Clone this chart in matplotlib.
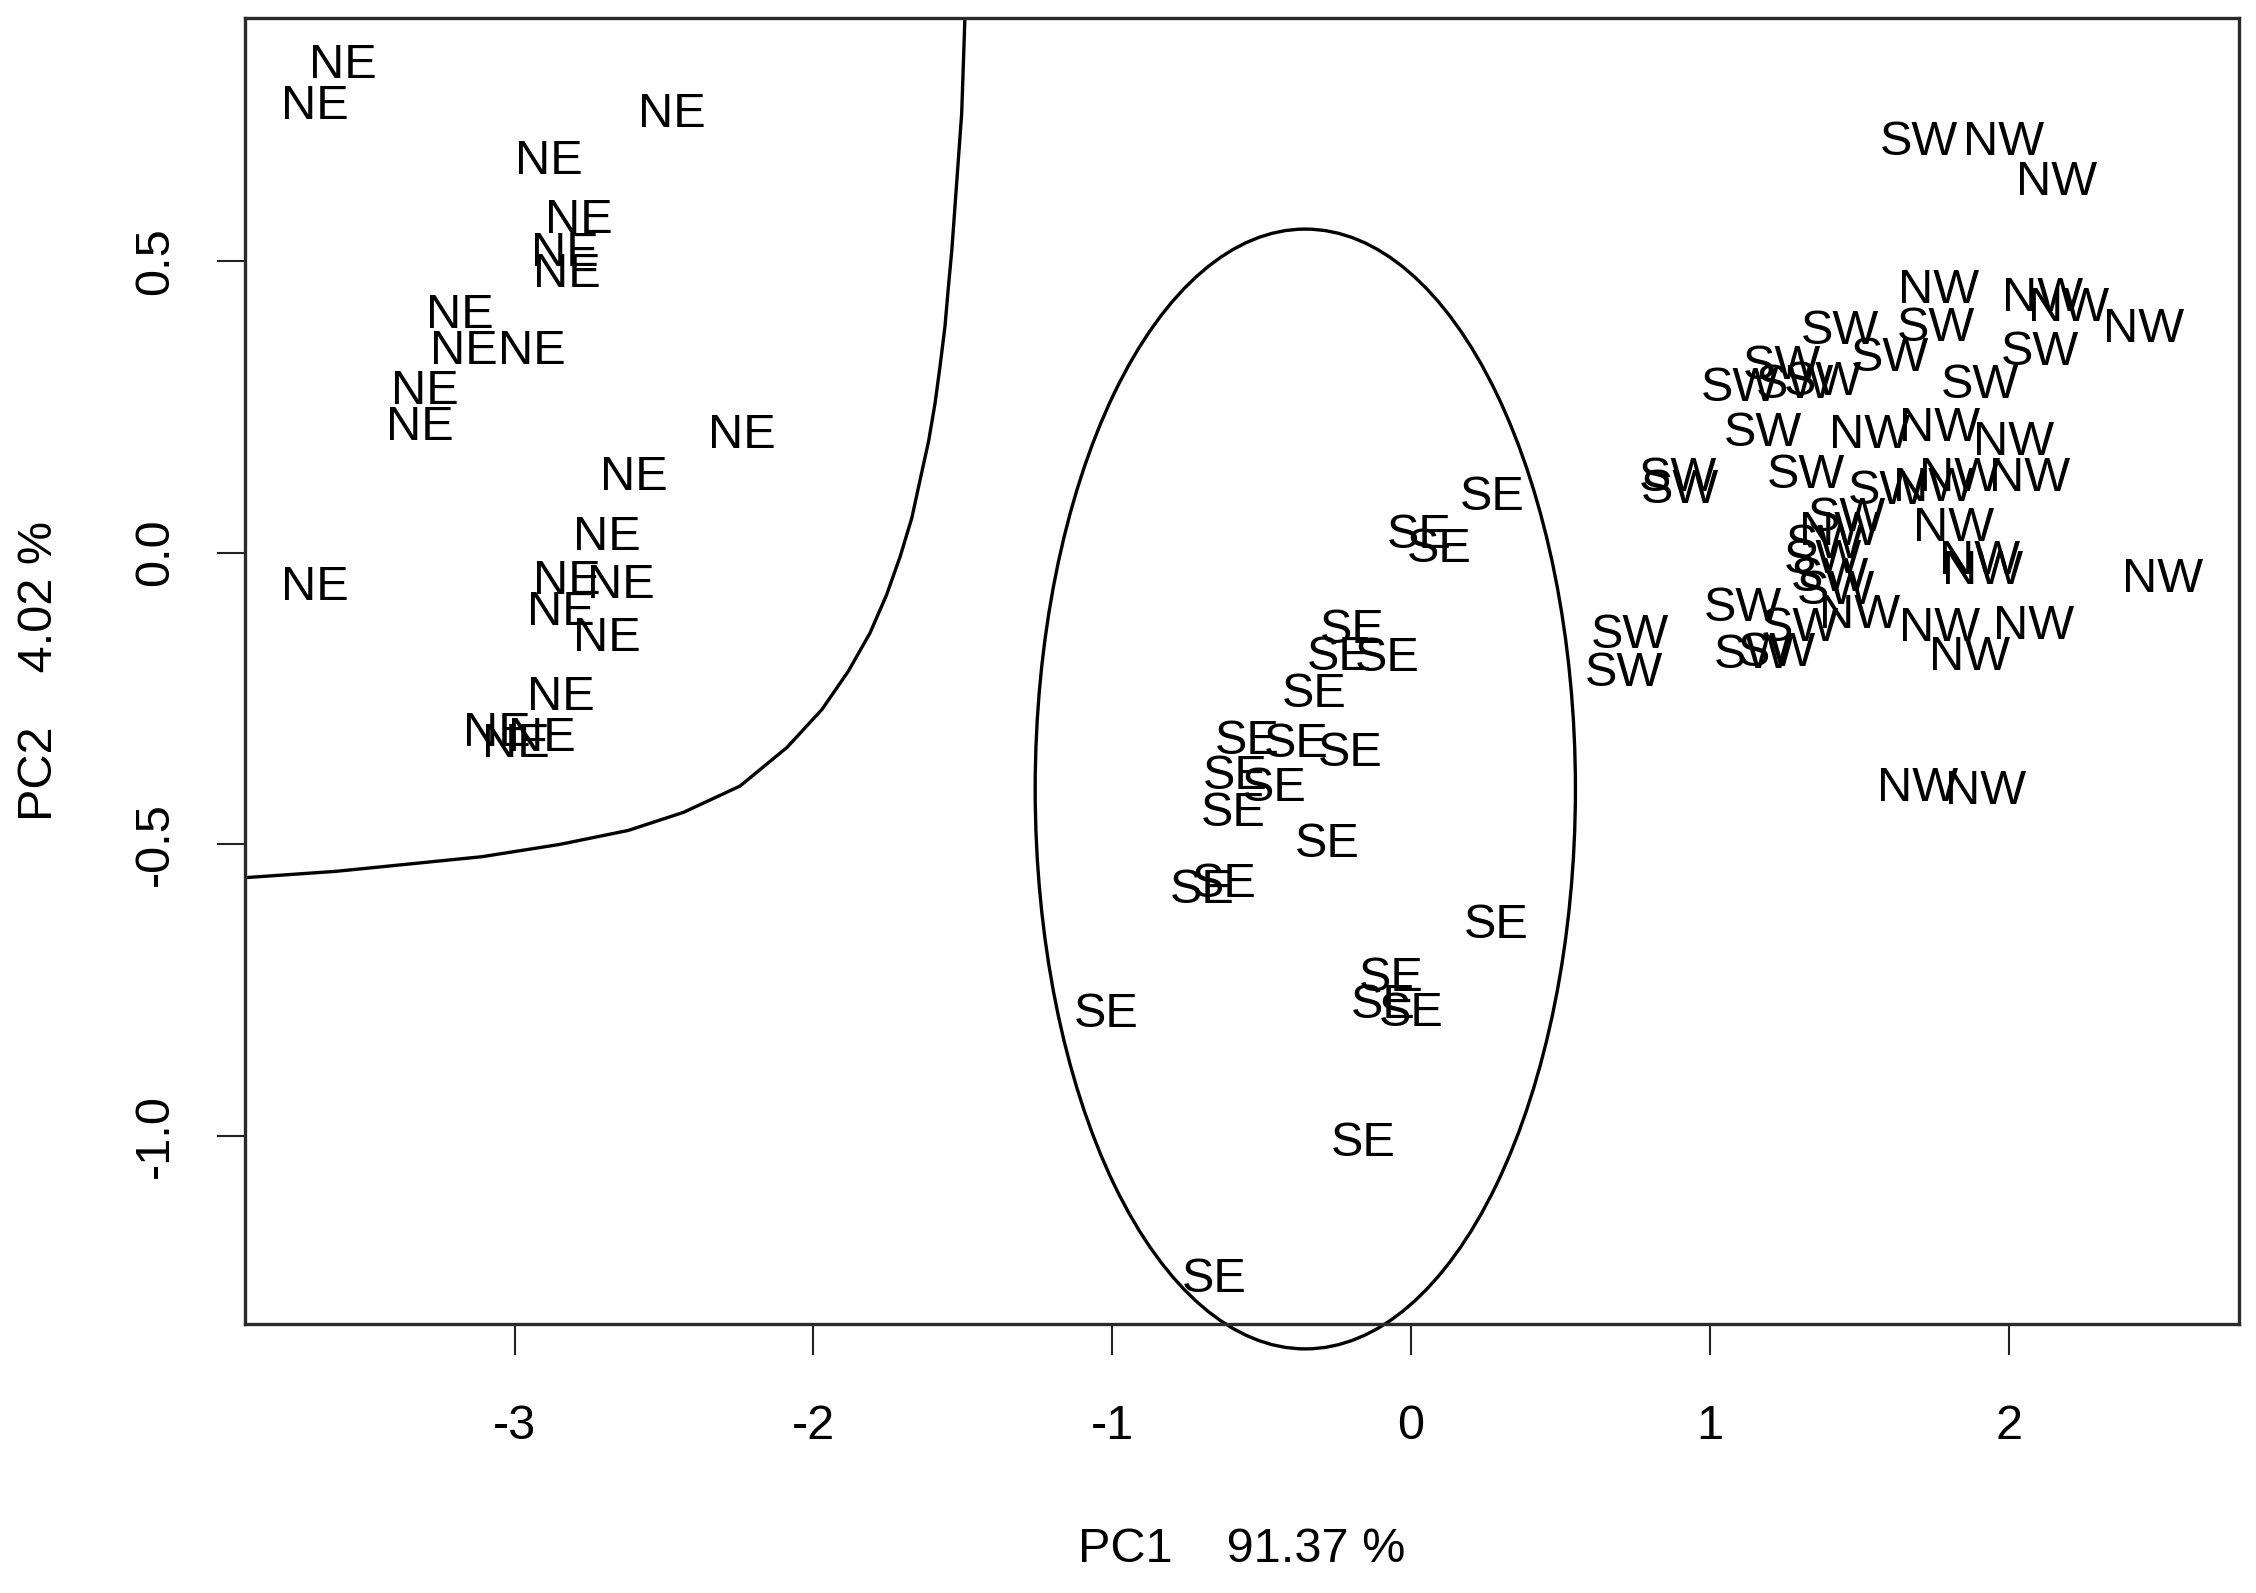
import numpy as np
import matplotlib
matplotlib.use("Agg")
import matplotlib.pyplot as plt
from matplotlib.patches import Ellipse

plt.rcParams['font.family'] = ['Liberation Sans', 'DejaVu Sans']

# PCA scores
ne_x = [-3.574, -3.668, -2.473, -2.885, -2.784, -2.832, -2.825, -3.184, -3.170, -2.943,
        -3.302, -3.316, -2.240, -2.601, -2.693, -3.668, -2.825, -2.645, -2.847, -2.690,
        -2.847, -3.060, -2.996, -2.909]
ne_y = [0.835, 0.764, 0.751, 0.670, 0.569, 0.512, 0.477, 0.406, 0.345, 0.345,
        0.276, 0.214, 0.200, 0.128, 0.025, -0.060, -0.049, -0.057, -0.103, -0.148,
        -0.249, -0.310, -0.328, -0.318]

se_x = [0.273, 0.027, 0.094, -0.197, -0.241, -0.079, -0.324, -0.549, -0.383, -0.205,
        -0.588, -0.458, -0.594, -0.279, -0.698, -0.624, 0.285, -0.066, -0.094, 0.000,
        -1.021, -0.161, -0.658]
se_y = [0.094, 0.030, 0.005, -0.133, -0.180, -0.182, -0.244, -0.323, -0.329, -0.345,
        -0.384, -0.404, -0.447, -0.500, -0.579, -0.569, -0.638, -0.729, -0.775, -0.789,
        -0.792, -1.012, -1.246]

sw_x = [1.700, 1.434, 1.758, 1.602, 2.104, 1.100, 1.240, 1.284, 1.378, 1.903,
        1.178, 0.894, 0.901, 1.323, 1.591, 1.457, 1.384, 1.378, 1.401, 1.423,
        1.111, 1.301, 1.144, 1.223, 0.733, 0.713]
sw_y = [0.703, 0.378, 0.383, 0.332, 0.343, 0.281, 0.318, 0.286, 0.292, 0.286,
        0.204, 0.127, 0.107, 0.132, 0.104, 0.058, 0.012, -0.013, -0.044, -0.067,
        -0.096, -0.130, -0.176, -0.173, -0.142, -0.207]

nw_x = [1.983, 2.160, 1.765, 2.112, 2.201, 2.452, 1.535, 1.769, 2.015, 1.835,
        2.071, 1.747, 1.434, 1.814, 1.903, 1.914, 2.516, 1.502, 1.769, 2.082,
        1.870, 1.694, 1.924]
nw_y = [0.703, 0.634, 0.448, 0.435, 0.418, 0.382, 0.201, 0.212, 0.189, 0.127,
        0.127, 0.109, 0.035, 0.041, -0.016, -0.033, -0.047, -0.107, -0.130, -0.127,
        -0.179, -0.404, -0.410]

# boundary curve (upper left)
curve_x = [-1.493, -1.504, -1.537, -1.549, -1.560, -1.576, -1.593, -1.615, -1.643,
           -1.671, -1.710, -1.755, -1.811, -1.883, -1.972, -2.089, -2.246, -2.435,
           -2.620, -2.850, -3.110, -3.597, -3.906]
curve_y = [0.919, 0.752, 0.518, 0.452, 0.387, 0.321, 0.256, 0.190, 0.125,
           0.059, -0.007, -0.072, -0.138, -0.203, -0.269, -0.334, -0.400, -0.445,
           -0.476, -0.500, -0.521, -0.546, -0.557]

# ellipse around SE group
ell_center = (-0.354, -0.405)
ell_w = 1.808
ell_h = 1.918

fig = plt.figure(figsize=(22.56, 15.93), dpi=100)
ax = fig.add_axes([0.1084, 0.169, 0.8841, 0.820])

fs = 35
for xs, ys, lab in [(ne_x, ne_y, "NE"), (se_x, se_y, "SE"),
                    (sw_x, sw_y, "SW"), (nw_x, nw_y, "NW")]:
    for x, y in zip(xs, ys):
        ax.text(x, y, lab, fontsize=fs, ha='center', va='center', color='black')

ax.plot(curve_x, curve_y, color='black', lw=2.4, solid_joinstyle='round')
ax.add_patch(Ellipse(ell_center, ell_w, ell_h, fill=False, ec='black', lw=2.4,
                     clip_on=False))

ax.set_xlim(-3.904, 2.771)
ax.set_ylim(-1.321, 0.9164)

ax.set_xticks([-3, -2, -1, 0, 1, 2])
ax.set_xticklabels(["-3", "-2", "-1", "0", "1", "2"])
ax.set_yticks([-1.0, -0.5, 0.0, 0.5])
ax.set_yticklabels(["-1.0", "-0.5", "0.0", "0.5"], rotation=90, va='center')

ax.tick_params(axis='x', length=22, width=1.5, pad=36, labelsize=fs, color='#222222')
ax.tick_params(axis='y', length=20, width=1.5, pad=28, labelsize=fs, color='#222222')

for s in ax.spines.values():
    s.set_linewidth(2.4)
    s.set_color('#2a2a2a')

ax.set_xlabel("PC1    91.37 %", fontsize=fs)
ax.set_ylabel("PC2    4.02 %", fontsize=fs)
ax.xaxis.set_label_coords(0.5, -0.173)
ax.xaxis.label.set_va('center')
ax.yaxis.set_label_coords(-0.1026, 0.5)
ax.yaxis.label.set_va('center')

fig.savefig("out.png", dpi=100)
